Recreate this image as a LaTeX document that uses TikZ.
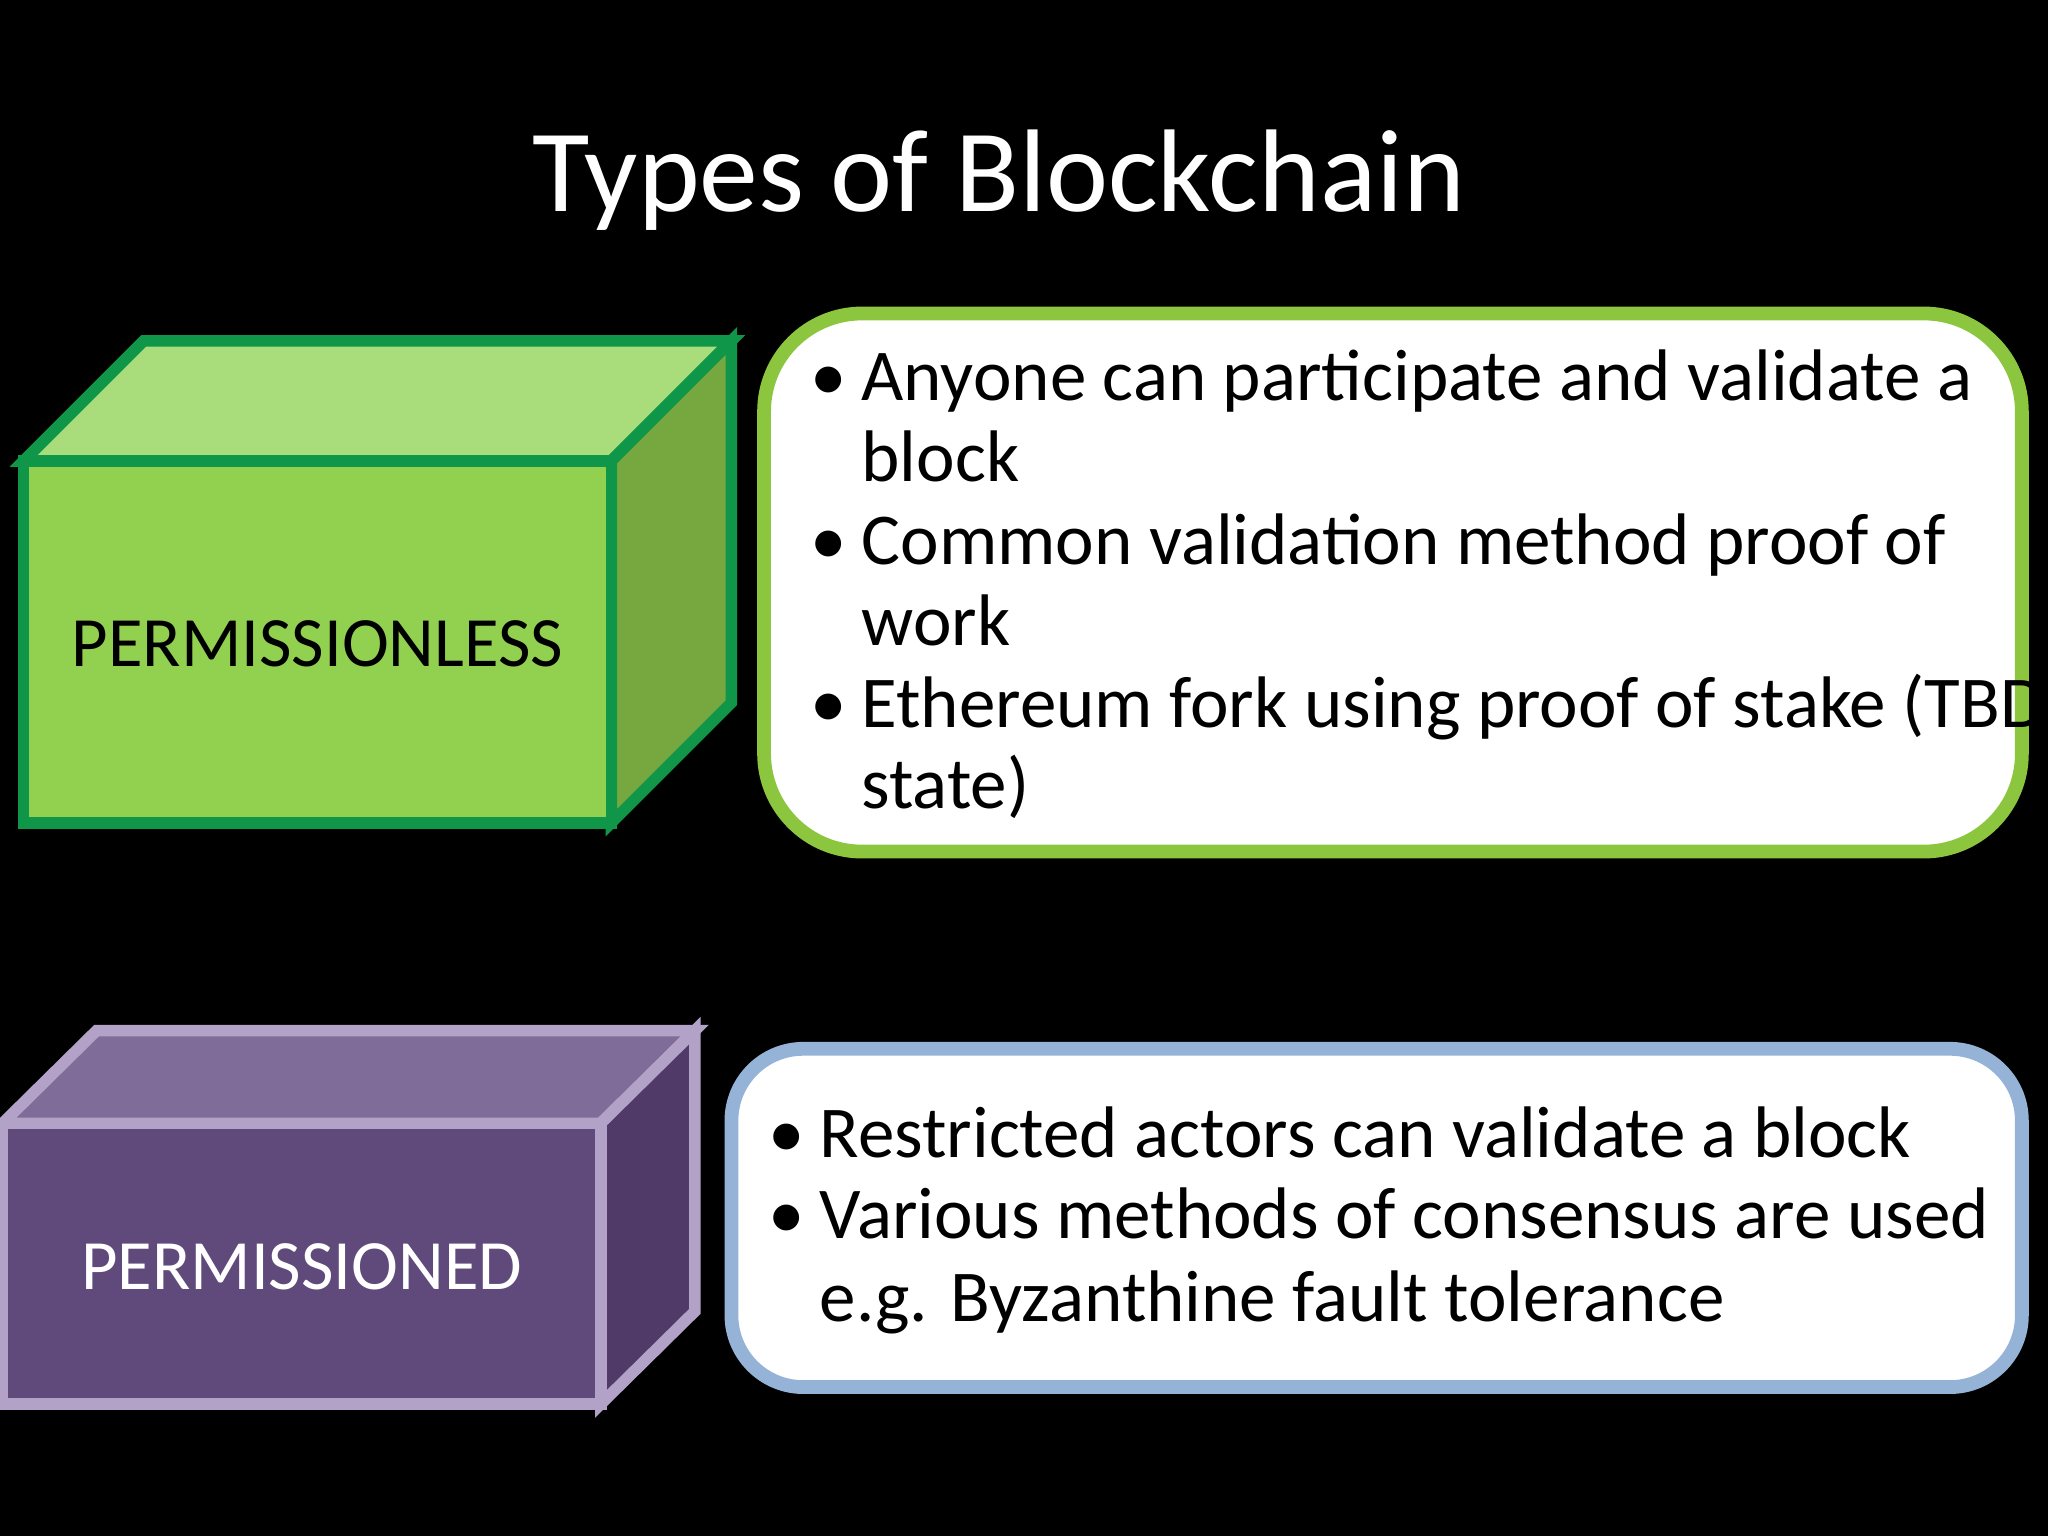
\documentclass[tikz,border=0pt]{standalone}
\usepackage{fontspec}
\setmainfont{Carlito}
\definecolor{gfront}{RGB}{146,208,80}
\definecolor{gtop}{RGB}{169,220,122}
\definecolor{gside}{RGB}{119,168,63}
\definecolor{gline}{RGB}{16,150,72}
\definecolor{pfront}{RGB}{96,74,123}
\definecolor{ptop}{RGB}{128,108,152}
\definecolor{pside}{RGB}{79,58,104}
\definecolor{pline}{RGB}{179,162,199}
\definecolor{gborder}{RGB}{140,198,63}
\definecolor{bborder}{RGB}{149,179,215}
\begin{document}
\begin{tikzpicture}[x=0.01cm,y=-0.01cm,
  txt/.style={anchor=base west,font=\fontsize{15.9}{19}\selectfont,inner sep=0},
  bul/.style={anchor=base west,font=\fontsize{15.9}{19}\selectfont,inner sep=0},
  lab/.style={font=\fontsize{15.4}{18}\selectfont}]
\fill[black] (0,0) rectangle (1568,1176);
\useasboundingbox (0,0) rectangle (1568,1176);
\node[font=\fontsize{25.6}{30}\selectfont,white] (title) at (765,138) {Types of Blockchain};
% green cube
\filldraw[fill=gtop,draw=gline,line width=2.5pt] (18,353) -- (110,261) -- (560,261) -- (468,353) -- cycle;
\filldraw[fill=gside,draw=gline,line width=2.5pt] (468,353) -- (560,261) -- (560,538) -- (468,630) -- cycle;
\filldraw[fill=gfront,draw=gline,line width=2.5pt] (18,353) rectangle (468,630);
\node[lab,black] (pl) at (243,493) {PERMISSIONLESS};
% purple cube
\filldraw[fill=ptop,draw=pline,line width=2.5pt] (2,860) -- (74,789) -- (532,789) -- (460,860) -- cycle;
\filldraw[fill=pside,draw=pline,line width=2.5pt] (460,860) -- (532,789) -- (532,1004) -- (460,1075) -- cycle;
\filldraw[fill=pfront,draw=pline,line width=2.5pt] (2,860) rectangle (460,1075);
\node[lab,white] (pd) at (231,970) {PERMISSIONED};
% boxes
\filldraw[fill=white,draw=gborder,line width=3pt,rounded corners=0.75cm] (585,240) rectangle (1548,652);
\filldraw[fill=white,draw=bborder,line width=3pt,rounded corners=0.55cm] (560,803) rectangle (1548,1062);
\node[bul] (b1) at (620,307) {•};
\node[txt] (l1) at (659,307) {Anyone can participate and validate a};
\node[txt] (l2) at (659,369) {block};
\node[bul] (b2) at (620,432) {•};
\node[txt] (l3) at (659,432) {Common validation method proof of};
\node[txt] (l4) at (659,494) {work};
\node[bul] (b3) at (620,557) {•};
\node[txt] (l5) at (659,557) {Ethereum fork using proof of stake (TBD};
\node[txt] (l6) at (659,619) {state)};
\node[bul] (b4) at (588,886) {•};
\node[txt] (m1) at (627,886) {Restricted actors can validate a block};
\node[bul] (b5) at (588,948) {•};
\node[txt] (m2) at (627,948) {Various methods of consensus are used};
\node[txt] (m3) at (627,1012) {e.g. Byzanthine fault tolerance};
\end{tikzpicture}
\end{document}
